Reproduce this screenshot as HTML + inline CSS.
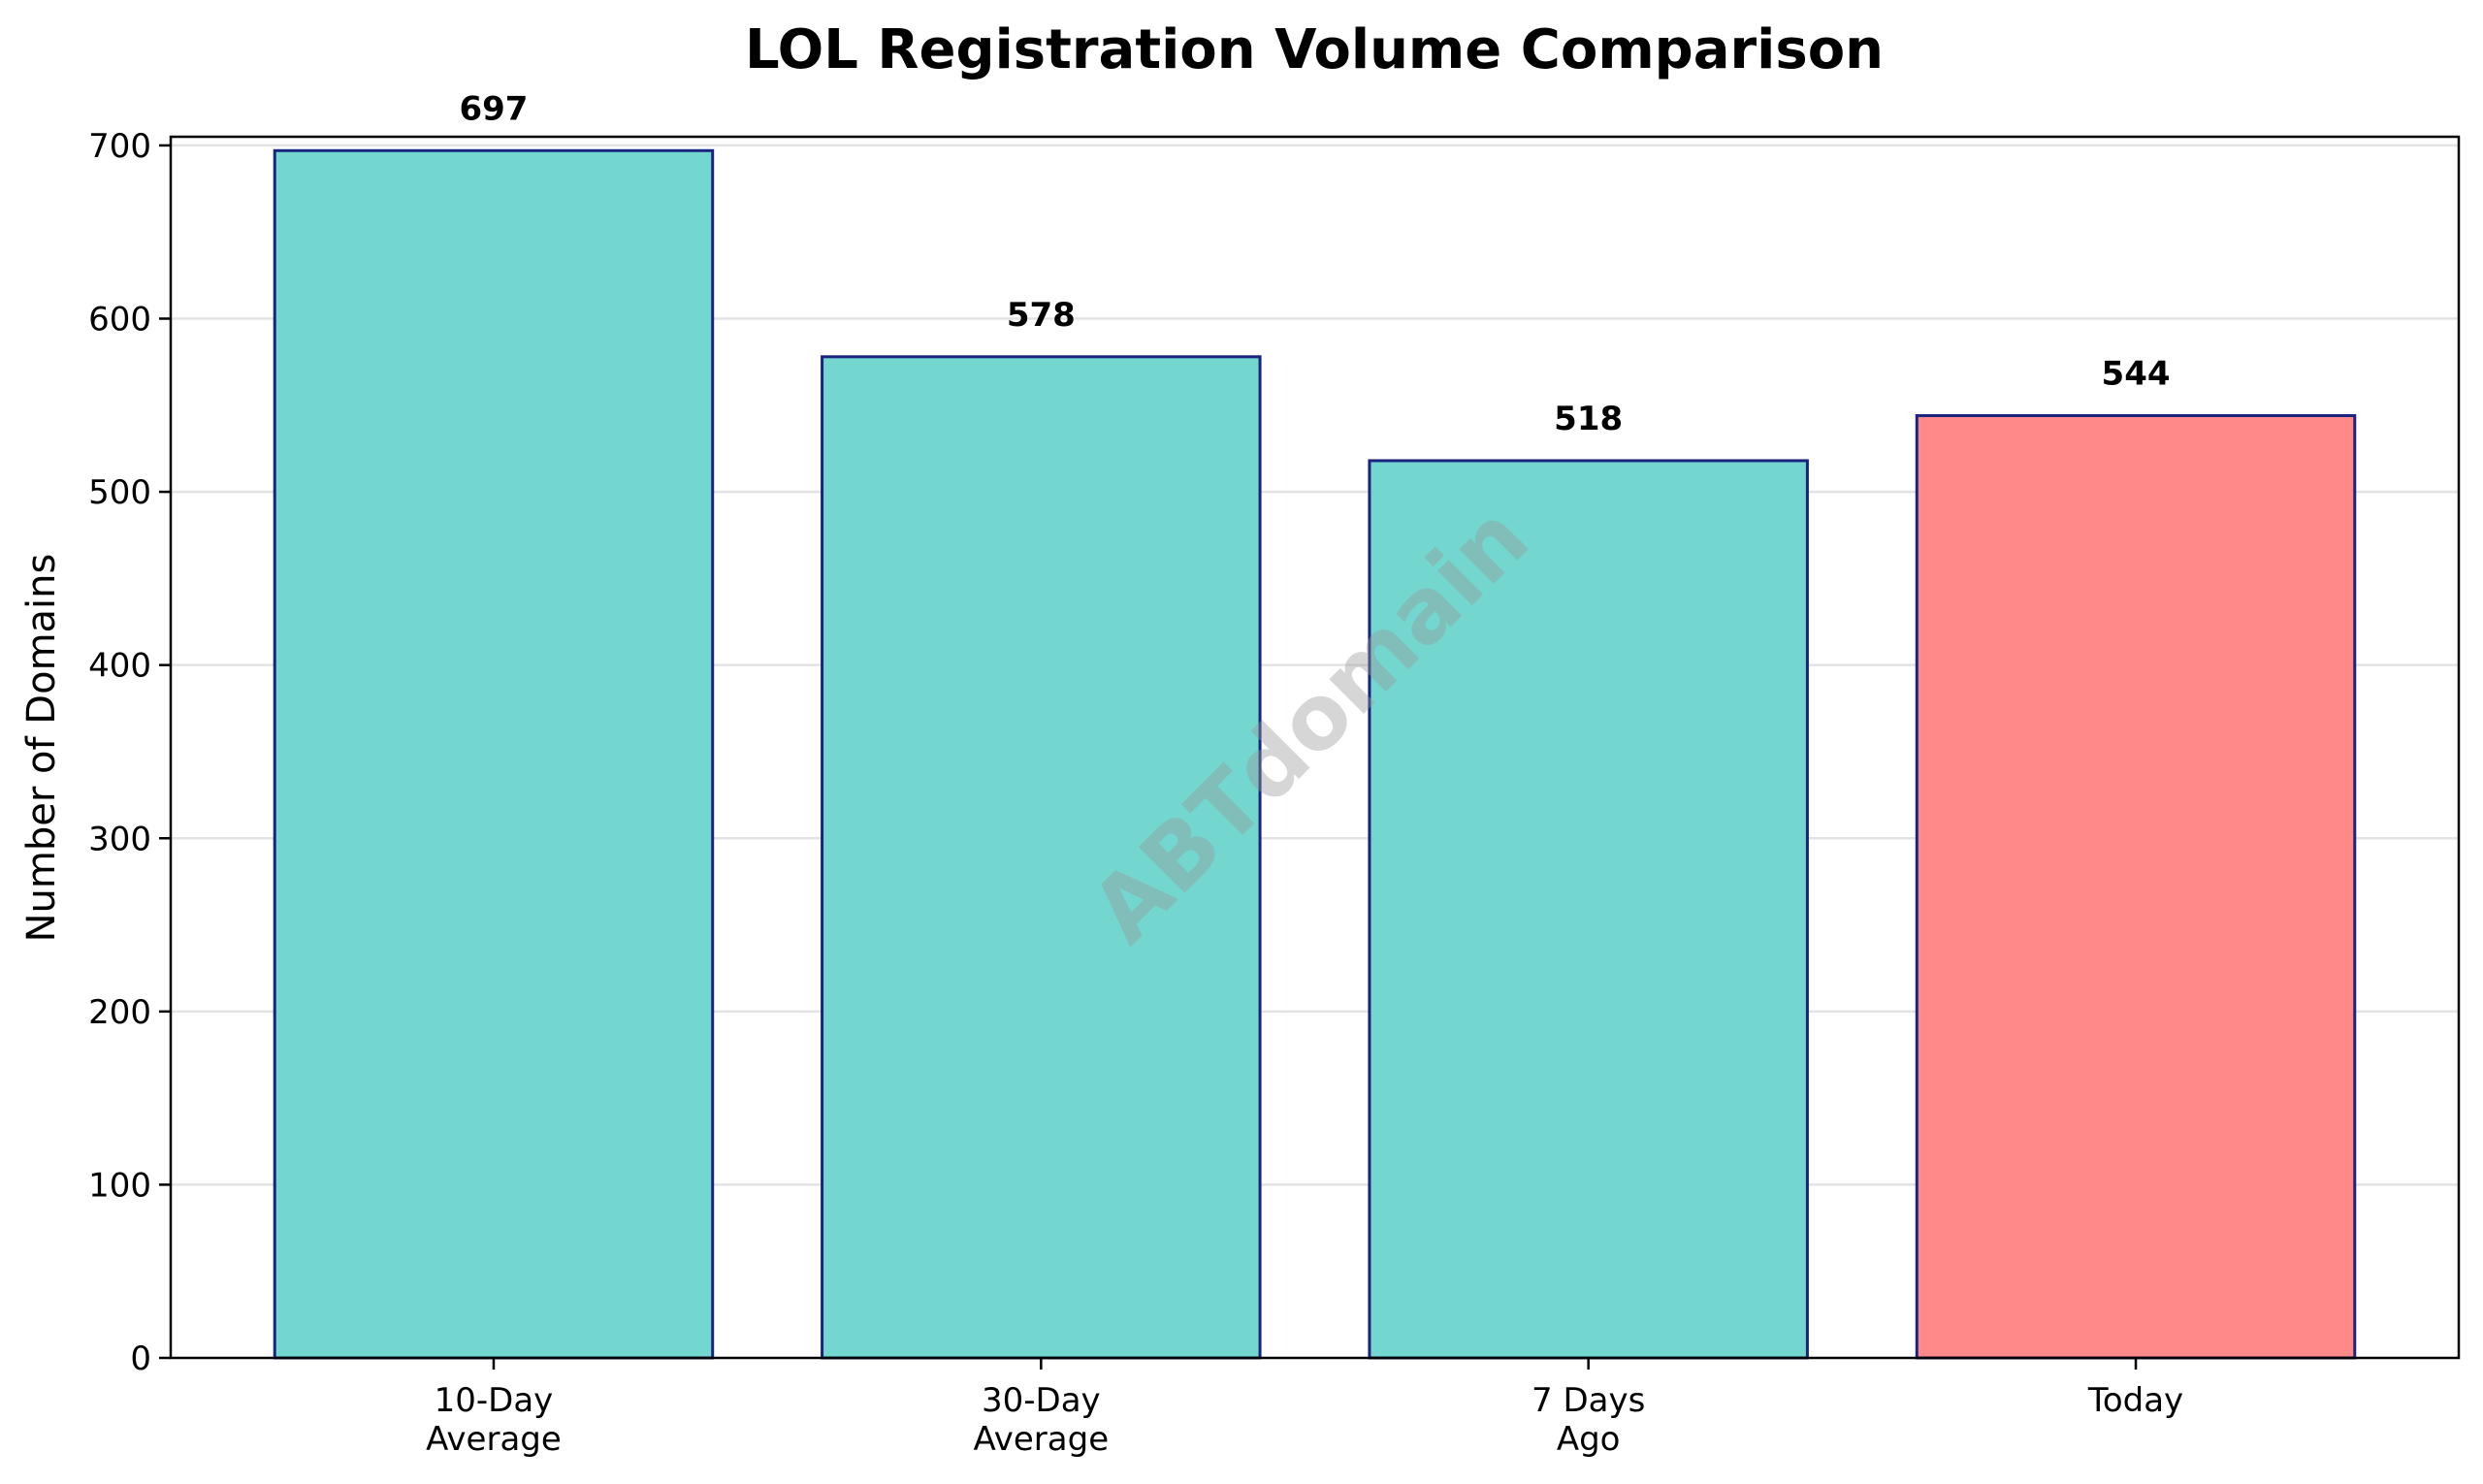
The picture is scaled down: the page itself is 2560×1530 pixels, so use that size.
<!DOCTYPE html>
<html><head><meta charset="utf-8"><style>
html,body{margin:0;padding:0;background:#fff;}
svg{display:block;font-family:"DejaVu Sans","Liberation Sans",sans-serif;}
</style></head><body>
<svg id="chart" width="2560" height="1530" viewBox="0 0 2560 1530" xmlns="http://www.w3.org/2000/svg">
<rect width="2560" height="1530" fill="#fff"/>
<text x="1355" y="70" text-anchor="middle" font-size="56" font-weight="bold">LOL Registration Volume Comparison</text>
<text transform="translate(56,771) rotate(-90)" text-anchor="middle" font-size="40">Number of Domains</text>
<g id="grid"></g><g id="bars"></g><g id="labels"></g><g id="axes"></g>
<text transform="translate(1355,751) rotate(-45)" text-anchor="middle" dominant-baseline="middle" font-size="92" font-weight="bold" fill="#999" fill-opacity="0.4">ABTdomain</text>
</svg>
<script>
const categories = [["10-Day","Average"],["30-Day","Average"],["7 Days","Ago"],["Today"]];
const values = [697, 578, 518, 544];
const barColors = ["#73d7cf","#73d7cf","#73d7cf","#ff8888"];
const yTicks = [0,100,200,300,400,500,600,700];

const NS="http://www.w3.org/2000/svg";
const L=176,R=2535,T=141,B=1400;
const yMax=705, xMin=-0.59, xMax=3.59;
const y=v=>B-(v/yMax)*(B-T);
const x=i=>L+(i-xMin)/(xMax-xMin)*(R-L);
const bw=0.8*(R-L)/(xMax-xMin);
function mk(tag,attrs,parent){const e=document.createElementNS(NS,tag);for(const k in attrs)e.setAttribute(k,attrs[k]);parent.appendChild(e);return e;}
const grid=document.getElementById('grid'),bars=document.getElementById('bars'),labels=document.getElementById('labels'),axes=document.getElementById('axes');
yTicks.forEach(t=>{
  if(t>0){const g=mk('line',{x1:L,x2:R,y1:y(t),y2:y(t),stroke:'#e3e3e3','stroke-width':2.5},grid);
  
  }
  const tk=mk('line',{x1:L-12,x2:L,y1:y(t),y2:y(t),stroke:'#000','stroke-width':2.5},axes);
  
  
  const tl=mk('text',{x:L-20,y:y(t)+12,'text-anchor':'end','font-size':34},axes);
  
  
  tl.textContent=t;
});
values.forEach((v,i)=>{
  const r=mk('rect',{x:x(i)-bw/2,y:y(v),width:bw,height:B-y(v),fill:barColors[i],stroke:'#1a237e','stroke-width':3},bars);
  
  
  const vl=mk('text',{x:x(i),y:y(v)-32,'text-anchor':'middle','font-size':34,'font-weight':'bold'},labels);
  
  
  vl.textContent=v;
  const tk=mk('line',{x1:x(i),x2:x(i),y1:B,y2:B+12,stroke:'#000','stroke-width':2.5},axes);
  
  
  categories[i].forEach((ln,j)=>{
    const xl=mk('text',{x:x(i),y:1455+j*40,'text-anchor':'middle','font-size':34},axes);
    
    
    xl.textContent=ln;
  });
});
const fr=mk('rect',{x:L,y:T,width:R-L,height:B-T,fill:'none',stroke:'#000','stroke-width':2.5},axes);


</script>
</body></html>
